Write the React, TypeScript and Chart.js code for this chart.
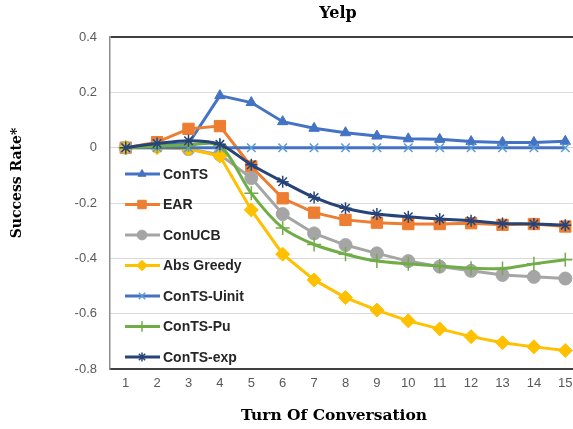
import React, { useEffect, useRef } from 'react';
import { Chart, registerables } from 'chart.js';
import { drawPoint } from 'chart.js/helpers';

Chart.register(...registerables);

const turns = ['1', '2', '3', '4', '5', '6', '7', '8', '9', '10', '11', '12', '13', '14', '15'];
const conTS = [0, 0.008, 0.015, 0.188, 0.163, 0.094, 0.07, 0.054, 0.042, 0.032, 0.03, 0.022, 0.019, 0.019, 0.023];
const ear = [0, 0.02, 0.068, 0.078, -0.068, -0.183, -0.235, -0.261, -0.271, -0.276, -0.276, -0.273, -0.279, -0.276, -0.285];
const conUCB = [0, 0.005, -0.005, -0.025, -0.11, -0.24, -0.31, -0.352, -0.382, -0.41, -0.43, -0.445, -0.46, -0.467, -0.473];
const absGreedy = [0, 0, -0.005, -0.03, -0.225, -0.385, -0.478, -0.542, -0.587, -0.626, -0.655, -0.683, -0.705, -0.72, -0.733];
const conTSUinit = [0, 0, 0, 0, 0, 0, 0, 0, 0, 0, 0, 0, 0, 0, 0];
const conTSPu = [0, 0.005, 0.01, 0.008, -0.165, -0.29, -0.35, -0.385, -0.41, -0.42, -0.428, -0.436, -0.437, -0.42, -0.405];
const conTSExp = [0, 0.015, 0.025, 0.012, -0.062, -0.123, -0.18, -0.219, -0.24, -0.25, -0.258, -0.264, -0.274, -0.276, -0.28];
const yTicks = [-0.8, -0.6, -0.4, -0.2, 0, 0.2, 0.4];

const seriesDefs = [
  { label: 'ConTS', data: conTS, color: '#4472C4', pt: '#4472C4', style: 'triangle', r: 6, tension: 0 },
  { label: 'EAR', data: ear, color: '#ED7D31', pt: '#ED7D31', style: 'rect', r: 8, tension: 0 },
  { label: 'ConUCB', data: conUCB, color: '#A5A5A5', pt: '#A5A5A5', style: 'circle', r: 6.5, tension: 0 },
  { label: 'Abs Greedy', data: absGreedy, color: '#FFC000', pt: '#FFC000', style: 'rectRot', r: 7, tension: 0 },
  { label: 'ConTS-Uinit', data: conTSUinit, color: '#4472C4', pt: '#5B9BD5', style: 'crossRot', r: 6, tension: 0 },
  { label: 'ConTS-Pu', data: conTSPu, color: '#70AD47', pt: '#70AD47', style: 'cross', r: 7, tension: 0.3 },
  { label: 'ConTS-exp', data: conTSExp, color: '#264478', pt: '#264478', style: 'star', r: 6, tension: 0.3 },
];

const serifFont = '"DejaVu Serif", serif';

const textPlugin = {
  id: 'customText',
  afterDatasetsDraw(chart: any) {
    const ctx = chart.ctx;
    ctx.save();
    // legend
    seriesDefs.forEach((s, i) => {
      const y = 174 + i * 30.5;
      ctx.strokeStyle = s.color;
      ctx.lineWidth = 3;
      ctx.beginPath();
      ctx.moveTo(125, y);
      ctx.lineTo(160, y);
      ctx.stroke();
      ctx.fillStyle = s.pt;
      ctx.strokeStyle = s.pt;
      ctx.lineWidth = s.style === 'crossRot' || s.style === 'cross' || s.style === 'star' ? 1.5 : 1;
      drawPoint(ctx, { pointStyle: s.style, radius: s.r * 0.75, borderWidth: ctx.lineWidth, rotation: 0 } as any, 142, y);
      ctx.fillStyle = '#262626';
      ctx.font = 'bold 14px "Liberation Sans", Arial, sans-serif';
      ctx.textAlign = 'left';
      ctx.textBaseline = 'middle';
      ctx.fillText(s.label, 163, y + 1);
    });
    // titles
    ctx.fillStyle = '#000';
    ctx.font = `bold 16px ${serifFont}`;
    ctx.textAlign = 'center';
    ctx.textBaseline = 'middle';
    ctx.fillText('Yelp', 338, 14);
    ctx.font = `bold 15.5px ${serifFont}`;
    ctx.fillText('Turn Of Conversation', 334, 416);
    ctx.font = `bold 14px ${serifFont}`;
    ctx.translate(17, 183);
    ctx.rotate(-Math.PI / 2);
    ctx.fillText('Success Rate*', 0, 0);
    ctx.restore();
  },
};

export default function App() {
  const ref = useRef<HTMLCanvasElement | null>(null);
  useEffect(() => {
    if (!ref.current) return;
    const chart = new Chart(ref.current, {
      type: 'line',
      data: {
        labels: turns,
        datasets: seriesDefs.map((s, i) => ({
          label: s.label,
          data: s.data,
          borderColor: s.color,
          backgroundColor: s.pt,
          pointBackgroundColor: s.pt,
          pointBorderColor: s.pt,
          pointBorderWidth: s.style === 'crossRot' || s.style === 'cross' || s.style === 'star' ? 1.5 : 1,
          pointStyle: s.style as any,
          pointRadius: s.r,
          borderWidth: 3,
          tension: s.tension,
          fill: false,
          order: seriesDefs.length - i,
          clip: false as any,
        })),
      },
      options: {
        animation: false,
        responsive: false,
        devicePixelRatio: 1,
        layout: { padding: { left: 0, top: 37, right: 8, bottom: 0 } },
        plugins: {
          legend: { display: false },
          title: { display: false },
          tooltip: { enabled: false },
        },
        scales: {
          x: {
            offset: true,
            grid: { display: false, drawTicks: false },
            border: { color: '#404040', width: 2 },
            ticks: {
              color: '#595959',
              font: { family: '"Liberation Sans", Arial, sans-serif', size: 13 },
              padding: 7,
              maxRotation: 0,
              autoSkip: false,
            },
            afterFit: (scale: any) => {
              scale.height = 60;
            },
          },
          y: {
            min: -0.8,
            max: 0.4,
            afterBuildTicks: (scale: any) => {
              scale.ticks = yTicks.map((v) => ({ value: v }));
            },
            grid: {
              drawTicks: false,
              color: (c: any) => (c.tick && Math.abs(c.tick.value - 0.4) < 1e-6 ? '#404040' : '#D9D9D9'),
              lineWidth: (c: any) => (c.tick && Math.abs(c.tick.value - 0.4) < 1e-6 ? 2 : 1),
            },
            border: { color: '#8C8C8C', width: 1.5 },
            ticks: {
              color: '#595959',
              font: { family: '"Liberation Sans", Arial, sans-serif', size: 13 },
              padding: 13,
              callback: (v: any) => {
                const n = Number(v);
                if (Math.abs(n) < 1e-9) return '0';
                return n.toFixed(1);
              },
            },
            afterFit: (scale: any) => {
              scale.width = 110;
            },
          },
        },
      },
      plugins: [textPlugin],
    });
    return () => chart.destroy();
  }, []);
  return (
    <div style={{ position: 'fixed', left: 0, top: 0, width: 573, height: 429, overflow: 'hidden', background: '#fff' }}>
      <canvas ref={ref} width={590} height={429} style={{ width: 590, height: 429, display: 'block' }} />
    </div>
  );
}
